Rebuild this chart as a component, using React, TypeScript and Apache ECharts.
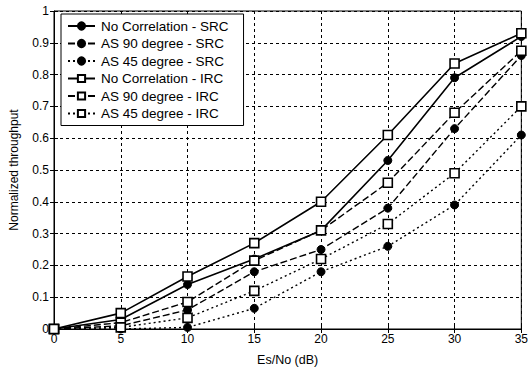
import React, { useEffect, useRef } from "react";
import * as echarts from "echarts";

const esNo = [0, 5, 10, 15, 20, 25, 30, 35];
const noCorrSRC = [0, 0.03, 0.14, 0.22, 0.31, 0.53, 0.79, 0.92];
const as90SRC = [0, 0.01, 0.06, 0.18, 0.25, 0.38, 0.63, 0.86];
const as45SRC = [0, 0, 0.005, 0.065, 0.18, 0.26, 0.39, 0.61];
const noCorrIRC = [0, 0.05, 0.165, 0.27, 0.4, 0.61, 0.835, 0.93];
const as90IRC = [0, 0.02, 0.085, 0.215, 0.31, 0.46, 0.68, 0.875];
const as45IRC = [0, 0.005, 0.035, 0.12, 0.22, 0.33, 0.49, 0.7];

const seriesNames = [
  "No Correlation - SRC",
  "AS 90 degree - SRC",
  "AS 45 degree - SRC",
  "No Correlation - IRC",
  "AS 90 degree - IRC",
  "AS 45 degree - IRC",
];
const seriesValues = [noCorrSRC, as90SRC, as45SRC, noCorrIRC, as90IRC, as45IRC];

const FONT = "Liberation Sans, Arial, sans-serif";

export default function App() {
  const ref = useRef<HTMLDivElement>(null);
  useEffect(() => {
    if (!ref.current) return;
    const chart = echarts.init(ref.current, null, { renderer: "svg" });
    const lineTypes: any[] = ["solid", [7, 3], [2, 3]];
    const series = seriesValues.map((vals, i) => {
      const isSRC = i < 3;
      return {
        name: seriesNames[i],
        type: "line",
        data: vals.map((v, k) => [esNo[k], v]),
        symbol: isSRC ? "circle" : "rect",
        symbolSize: isSRC ? 8 : 9,
        showAllSymbol: true,
        lineStyle: { color: "#000", width: i % 3 === 0 ? 1.6 : 1.4, type: lineTypes[i % 3] },
        itemStyle: isSRC
          ? { color: "#000", borderColor: "#000", borderWidth: 1 }
          : { color: "#fff", borderColor: "#000", borderWidth: 1.6 },
        z: isSRC ? 3 : 4,
      };
    });
    chart.setOption({
      animation: false,
      backgroundColor: "#fff",
      textStyle: { fontFamily: FONT, color: "#000" },
      grid: {
        left: 53,
        right: 6,
        top: 11,
        bottom: 36,
        show: true,
        borderColor: "#000",
        borderWidth: 1,
        backgroundColor: "transparent",
      },
      legend: {
        orient: "vertical",
        left: 61,
        top: 14,
        padding: [5, 15, 5, 6],
        itemGap: 3.5,
        itemWidth: 27,
        itemHeight: 9,
        backgroundColor: "#fff",
        borderColor: "#000",
        borderWidth: 1,
        textStyle: { fontFamily: FONT, fontSize: 13.5, color: "#000", padding: [0, 0, 0, 1] },
        data: seriesNames,
      },
      xAxis: [
        {
          type: "value",
          min: 0,
          max: 35,
          interval: 5,
          name: "Es/No (dB)",
          nameLocation: "middle",
          nameGap: 24,
          nameTextStyle: { fontSize: 12.5, color: "#000", fontFamily: FONT },
          axisLine: { lineStyle: { color: "#000", width: 1 } },
          axisTick: { inside: true, length: 4, lineStyle: { color: "#000" } },
          axisLabel: { fontSize: 12, color: "#000", margin: 4, fontFamily: FONT },
          splitLine: { show: true, lineStyle: { color: "#000", type: [3, 3], width: 1 } },
        },
        {
          type: "value",
          position: "top",
          min: 0,
          max: 35,
          interval: 5,
          axisLine: { show: false },
          axisTick: { inside: true, length: 4, lineStyle: { color: "#000" } },
          axisLabel: { show: false },
          splitLine: { show: false },
        },
      ],
      yAxis: [
        {
          type: "value",
          min: 0,
          max: 1,
          interval: 0.1,
          name: "Normalized throughput",
          nameLocation: "middle",
          nameGap: 34,
          nameTextStyle: { fontSize: 12, color: "#000", fontFamily: FONT },
          axisLine: { lineStyle: { color: "#000", width: 1 } },
          axisTick: { inside: true, length: 4, lineStyle: { color: "#000" } },
          axisLabel: { fontSize: 12, color: "#000", margin: 5, fontFamily: FONT },
          splitLine: { show: true, lineStyle: { color: "#000", type: [3, 3], width: 1 } },
        },
        {
          type: "value",
          position: "right",
          min: 0,
          max: 1,
          interval: 0.1,
          axisLine: { show: false },
          axisTick: { inside: true, length: 4, lineStyle: { color: "#000" } },
          axisLabel: { show: false },
          splitLine: { show: false },
        },
      ],
      series,
    });
    return () => chart.dispose();
  }, []);
  return <div ref={ref} style={{ width: 531, height: 371, position: "fixed", left: 0, top: 0 }} />;
}
